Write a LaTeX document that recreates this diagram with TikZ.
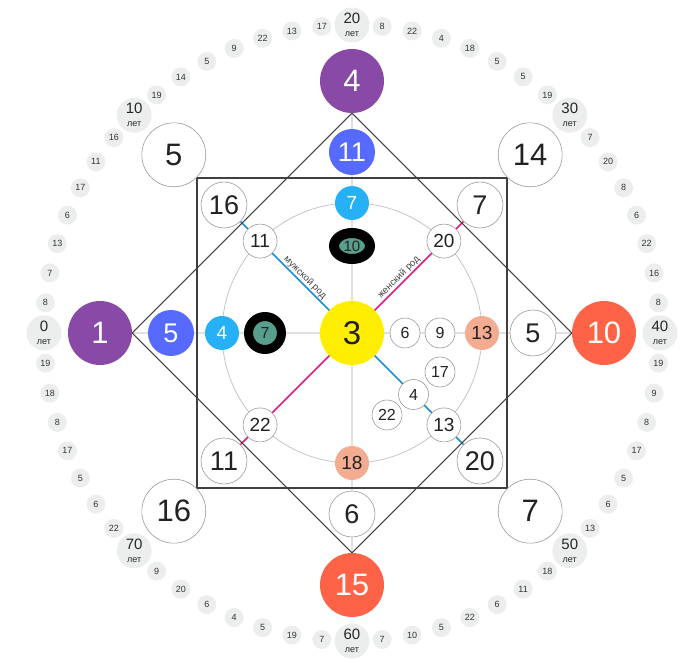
\documentclass[tikz,border=0pt]{standalone}
\usepackage{fontspec}
\setmainfont{Liberation Sans}
\usetikzlibrary{positioning,shapes.geometric,backgrounds}

\definecolor{destpurple}{RGB}{136,74,166}
\definecolor{destblue}{RGB}{86,106,255}
\definecolor{destcyan}{RGB}{38,176,246}
\definecolor{destyellow}{RGB}{255,238,0}
\definecolor{destsalmon}{RGB}{244,172,144}
\definecolor{desttomato}{RGB}{255,99,71}
\definecolor{destgreen}{RGB}{88,158,140}
\definecolor{agegray}{RGB}{236,237,237}
\definecolor{maleblue}{RGB}{26,140,212}
\definecolor{femalepink}{RGB}{230,24,128}
\definecolor{ink}{RGB}{34,34,34}

\begin{document}
\begin{tikzpicture}[x=1pt, y=1pt,
    ball/.style={circle, inner sep=0pt, text=ink},
    outerdot/.style={ball, minimum size=64pt, font=\fontsize{31}{31}\selectfont},
    middot/.style={ball, minimum size=46pt, font=\fontsize{27}{27}\selectfont},
    ringdot/.style={ball, minimum size=34pt, font=\fontsize{19}{19}\selectfont},
    tinydot/.style={ball, minimum size=30pt, font=\fontsize{16}{16}\selectfont},
    plain/.style={fill=white, draw=black!40, line width=0.6pt},
    hot/.style={text=white},
    agedot/.style={ball, fill=agegray, minimum size=19pt, font=\fontsize{9}{9}\selectfont, text=black!80},
    decade/.style={ball, fill=agegray, minimum size=35pt, align=center, font=\fontsize{15}{13}\selectfont, text=black!85},
    karma/.style={fill=destgreen, draw=black, inner sep=0pt, font=\fontsize{15}{15}\selectfont, text=ink},
    edgeline/.style={draw=black!75, line width=1.1pt},
    crossline/.style={draw=black!12, line width=1.5pt},
    gender/.style={font=\fontsize{9.5}{9.5}\selectfont, text=black!75, inner sep=1.5pt}
]
\useasboundingbox (-352,-329) rectangle (345,333);

% Age ring
\foreach \n [count=\k from 0] in {0,10,...,70}
  \node[decade] (dec\n) at ({180-45*\k}:308) {\n\\{\fontsize{9}{13}\selectfont лет}};
\foreach \v [count=\k from 0] in {8,7,13,6,17,11,16, 19,14,5,9,22,13,17, 8,22,4,18,5,5,19, 7,20,8,6,22,16,8,
    19,9,8,17,5,6,13, 18,11,6,22,5,10,7, 7,19,5,4,6,20,9, 22,6,5,17,8,18,19}{
  \pgfmathsetmacro\ang{180-5.625*(\k+1+floor(\k/7))}
  \node[agedot] (yr\k) at (\ang:308) {\v};
}

% Main points
\node[outerdot, fill=destpurple, hot] (p4) at (0,252) {4};
\node[outerdot, fill=destpurple, hot] (p1) at (-252,0) {1};
\node[outerdot, fill=desttomato, hot] (t10) at (252,0) {10};
\node[outerdot, fill=desttomato, hot] (t15) at (0,-252) {15};

% Ancestral corners
\node[outerdot, plain] (c5) at (135:252) {5};
\node[outerdot, plain] (c14) at (45:252) {14};
\node[outerdot, plain] (c16) at (225:252) {16};
\node[outerdot, plain] (c7) at (-45:252) {7};

% Second ring
\node[middot, fill=destblue, hot] (b11) at (0,181) {11};
\node[middot, fill=destblue, hot] (b5) at (-181,0) {5};
\node[middot, plain] (w5) at (181,0) {5};
\node[middot, plain] (w6) at (0,-181) {6};
\node[middot, plain] (s16) at (135:181) {16};
\node[middot, plain] (s7) at (45:181) {7};
\node[middot, plain] (s11) at (225:181) {11};
\node[middot, plain] (s20) at (-45:181) {20};

% Inner ring
\node[ringdot, fill=destcyan, hot] (cy7) at (0,130) {7};
\node[ringdot, fill=destcyan, hot] (cy4) at (-130,0) {4};
\node[ringdot, fill=destsalmon] (sa13) at (130,0) {13};
\node[ringdot, fill=destsalmon] (sa18) at (0,-130) {18};
\node[ringdot, plain] (r11) at (135:130) {11};
\node[ringdot, plain] (r20) at (45:130) {20};
\node[ringdot, plain] (r22) at (225:130) {22};
\node[ringdot, plain] (r13) at (-45:130) {13};

% Karmic tail
\node[karma, ellipse, line width=10pt, minimum width=36pt, minimum height=26pt] (k10) at (0,87) {10};
\node[karma, circle, line width=9pt, minimum size=33pt, font=\fontsize{16}{16}\selectfont] (k7) at (-87,0) {7};

% Centre and money line
\node[ball, fill=destyellow, minimum size=64pt, font=\fontsize{33}{33}\selectfont] (sun) at (0,0) {3};
\node[tinydot, plain] (n6) at (53,0) {6};
\node[tinydot, plain] (n9) at (88,0) {9};
\node[tinydot, plain] (n4) at (-45:87) {4};
\node[tinydot, plain] (n17) at (88,-39) {17};
\node[tinydot, plain] (n22) at (35,-82) {22};

% Line labels
\path (r11) -- node[gender, sloped, above] {мужской род} (sun);
\path (sun) -- node[gender, sloped, above] {женский род} (r20);

% Lines behind
\begin{scope}[on background layer]
\draw[crossline] (p1) -- (t10);
\draw[crossline] (p4) -- (t15);
\draw[draw=black!25, line width=0.7pt] (sun.center) circle[radius=130];
\draw[maleblue, line width=1.5pt] (s16) -- (s20);
\draw[femalepink, line width=1.5pt] (s7) -- (s11);
\draw[edgeline] (-155,-155) rectangle (155,155);
\draw[edgeline] (p4.south) -- (t10.west) -- (t15.north) -- (p1.east) -- cycle;
\end{scope}

\end{tikzpicture}
\end{document}
